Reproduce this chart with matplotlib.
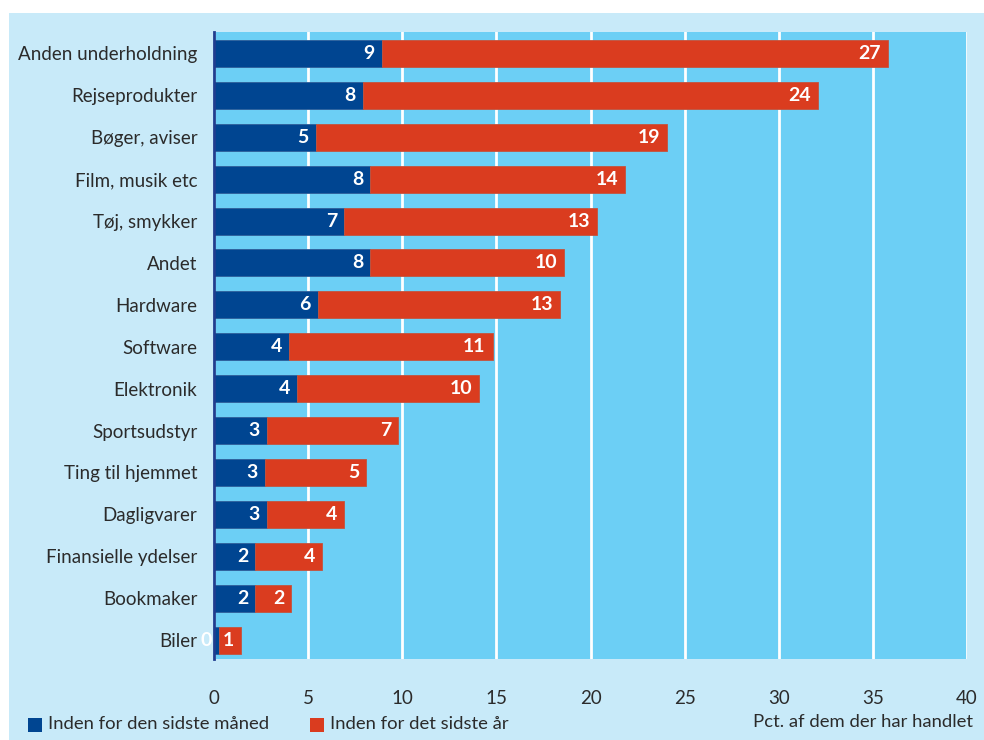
import matplotlib
matplotlib.use('Agg')
import matplotlib.pyplot as plt
from matplotlib.patches import Rectangle

plt.rcParams['font.family'] = ['Lato', 'DejaVu Sans']

# data
categories = ['Anden underholdning', 'Rejseprodukter', 'Bøger, aviser', 'Film, musik etc',
              'Tøj, smykker', 'Andet', 'Hardware', 'Software', 'Elektronik', 'Sportsudstyr',
              'Ting til hjemmet', 'Dagligvarer', 'Finansielle ydelser', 'Bookmaker', 'Biler']
month = [8.9, 7.9, 5.4, 8.3, 6.9, 8.3, 5.5, 4.0, 4.4, 2.8, 2.7, 2.8, 2.2, 2.2, 0.25]
year = [26.9, 24.2, 18.65, 13.55, 13.45, 10.3, 12.9, 10.8, 9.7, 7.0, 5.4, 4.1, 3.55, 1.9, 1.2]
month_labels = ['9', '8', '5', '8', '7', '8', '6', '4', '4', '3', '3', '3', '2', '2', '0']
year_labels = ['27', '24', '19', '14', '13', '10', '13', '11', '10', '7', '5', '4', '4', '2', '1']
xticks = [0, 5, 10, 15, 20, 25, 30, 35, 40]

BLUE = '#004591'
RED = '#da3c1f'
PLOT_BG = '#6ccff5'
PANEL = '#c8eaf9'
TXT = '#2b2b2b'

fig = plt.figure(figsize=(9.84, 7.4), dpi=100)
fig.patch.set_facecolor('white')
# light blue panel behind everything
fig.patches.append(Rectangle((9 / 984, 0), 1, 1 - 13 / 740, transform=fig.transFigure,
                             facecolor=PANEL, edgecolor='none', zorder=-10))

ax = fig.add_axes([214 / 984, 1 - 659 / 740, (967 - 214) / 984, (659 - 32) / 740])
ax.set_facecolor(PLOT_BG)

y = list(range(len(categories)))
h = 0.645
ax.barh(y, month, height=h, color=BLUE, edgecolor='#2f5f9a', linewidth=0.6, zorder=3)
ax.barh(y, year, left=month, height=h, color=RED, edgecolor='#c4533d', linewidth=0.6, zorder=3)

for i in y:
    ax.annotate(month_labels[i], (month[i], i), xytext=(-5, 0), textcoords='offset points',
                ha='right', va='center', color='white', fontsize=14, fontweight='bold',
                zorder=5, annotation_clip=False)
    ax.annotate(year_labels[i], (month[i] + year[i], i), xytext=(-5, 0), textcoords='offset points',
                ha='right', va='center', color='white', fontsize=14, fontweight='bold',
                zorder=5, annotation_clip=False)

ax.set_xlim(0, 40)
ax.set_ylim(len(categories) - 0.55, -0.51)
ax.set_xticks(xticks)
ax.set_yticks(y)
ax.set_yticklabels(categories)
ax.tick_params(axis='y', length=0, pad=12, labelsize=13.5, labelcolor=TXT)
ax.tick_params(axis='x', length=0, pad=22, labelsize=13.5, labelcolor=TXT)

ax.grid(axis='x', color='white', linewidth=2, zorder=1)
ax.set_axisbelow(True)
for s in ['top', 'right', 'bottom']:
    ax.spines[s].set_visible(False)
ax.spines['left'].set_color('#1f3d8f')
ax.spines['left'].set_linewidth(2)
ax.spines['left'].set_zorder(6)

# legend squares and texts
fig.patches.append(Rectangle((28 / 984, 1 - 732 / 740), 14 / 984, 14 / 740,
                             transform=fig.transFigure, facecolor=BLUE, edgecolor='none'))
fig.text(48 / 984, 1 - 724 / 740, 'Inden for den sidste måned', ha='left', va='center',
         fontsize=13.3, color=TXT)
fig.patches.append(Rectangle((310 / 984, 1 - 732 / 740), 14 / 984, 14 / 740,
                             transform=fig.transFigure, facecolor=RED, edgecolor='none'))
fig.text(330 / 984, 1 - 724 / 740, 'Inden for det sidste år', ha='left', va='center',
         fontsize=13.3, color=TXT)
fig.text(973 / 984, 1 - 722 / 740, 'Pct. af dem der har handlet', ha='right', va='center',
         fontsize=13.3, color=TXT)

fig.savefig('out.png', dpi=100, facecolor=fig.get_facecolor())
